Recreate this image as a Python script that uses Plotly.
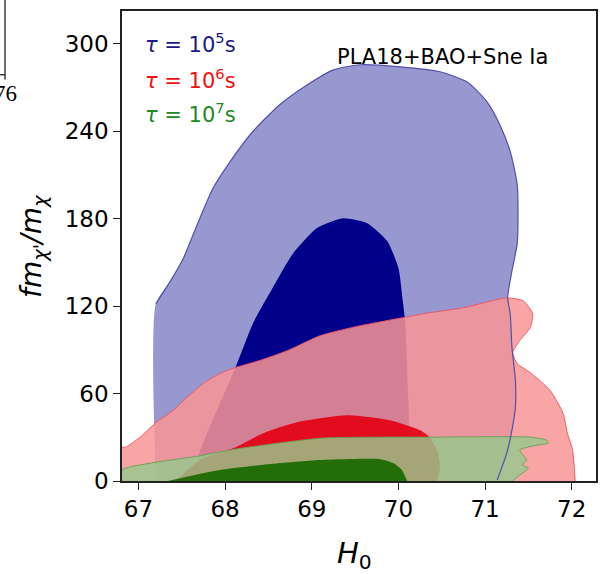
import plotly.graph_objects as go

# ---- data (H0, f m_chi'/m_chi) contour boundaries ----
blue68_h0 = [67.20, 67.20, 67.37, 67.52, 67.68, 67.86, 68.06, 68.32, 68.63, 68.95, 69.25, 69.56, 70.02, 70.48,
             70.79, 71.02, 71.17, 71.29, 71.37, 71.38, 71.37, 71.31, 71.26, 71.29, 71.31, 71.35, 71.35, 71.31,
             71.25, 71.14, 71.13]
blue68_f = [0, 121.6, 137.4, 153.1, 176.3, 200.9, 219.4, 239.9, 258.3, 272.0, 282.2, 285.7, 284.3, 280.9,
            274.0, 260.4, 244.6, 226.2, 203.7, 180.4, 162.6, 144.2, 125.7, 114.8, 91.6, 69.0, 50.6, 34.9,
            19.1, 0.7, 0]
blue95_h0 = [67.67, 67.69, 68.12, 68.32, 68.55, 68.78, 69.06, 69.36, 69.64, 69.87, 70.00, 70.05, 70.08, 70.11,
             70.13, 70.13]
blue95_f = [0, 16.4, 77.9, 108.0, 132.6, 155.8, 173.6, 180.4, 177.0, 164.7, 146.2, 123.7, 108.0, 62.2, 28.0, 0]

red68_h0 = [66.81, 66.81, 66.85, 67.02, 67.19, 67.40, 67.56, 67.75, 67.94, 68.12, 68.40, 68.72, 69.10, 69.56,
            70.05, 70.36, 70.75, 71.25, 71.44, 71.55, 71.52, 71.40, 71.32, 71.37, 71.52, 71.75, 71.90, 71.95,
            72.01, 72.04]
red68_f = [0, 23.2, 23.2, 30.1, 39.6, 48.5, 57.4, 67.0, 73.8, 77.9, 82.7, 89.5, 99.8, 106.6,
           112.1, 115.5, 118.9, 125.7, 123.7, 114.8, 105.2, 96.4, 88.2, 80.6, 74.5, 62.2, 46.5, 32.8,
           21.2, 0]
red95_h0 = [67.43, 67.71, 68.10, 68.44, 68.83, 69.41, 69.90, 70.25, 70.36, 70.46, 70.48, 70.45]
red95_f = [0, 14.4, 22.6, 32.8, 40.3, 45.1, 41.7, 34.9, 30.1, 19.1, 9.6, 0]

green68_h0 = [66.81, 66.81, 67.69, 68.12, 69.10, 69.79, 70.36, 71.52, 71.71, 71.73, 71.60, 71.40, 71.48,
              71.43, 71.50, 71.37, 71.32]
green68_f = [0, 7.5, 17.1, 21.9, 29.4, 30.1, 30.1, 30.1, 28.0, 26.0, 24.6, 21.2, 14.4, 10.9, 8.9, 2.7, 0]
green95_h0 = [67.34, 67.94, 68.52, 69.10, 69.79, 69.94, 70.04, 70.08, 70.10]
green95_f = [0, 7.5, 11.6, 14.4, 15.0, 12.3, 7.5, 2.7, 0]

x_ticks = [67, 68, 69, 70, 71, 72]
y_ticks = [0, 60, 120, 180, 240, 300]

FONT = "DejaVu Sans"
fig = go.Figure()


def poly(x, y, fill, line_color=None, width=0):
    fig.add_trace(go.Scatter(
        x=x, y=y, mode="lines", fill="toself", fillcolor=fill,
        line=dict(color=line_color or "rgba(0,0,0,0)", width=width, shape="spline", smoothing=0.6),
        hoverinfo="skip", showlegend=False))


poly(blue68_h0, blue68_f, "rgb(152,152,208)")
poly(blue95_h0, blue95_f, "rgb(0,0,139)")
poly(red68_h0, red68_f, "rgba(249,149,149,0.85)", "rgba(240,80,95,0.9)", 1)
poly(red95_h0, red95_f, "rgba(228,0,18,0.9)")
poly(green68_h0, green68_f, "rgba(150,200,140,0.82)", "rgba(100,160,80,0.9)", 1)
poly(green95_h0, green95_f, "rgba(25,105,0,0.93)")
# outer blue contour line (curved part), drawn on top
fig.add_trace(go.Scatter(x=blue68_h0[1:-1], y=blue68_f[1:-1], mode="lines",
                         line=dict(color="rgb(80,80,170)", width=1.2, shape="spline", smoothing=0.6),
                         hoverinfo="skip", showlegend=False))

axis_common = dict(showline=True, linecolor="#222", linewidth=1.5, mirror=True,
                   ticks="outside", ticklen=7, tickwidth=1.3, tickcolor="#222",
                   showgrid=False, zeroline=False,
                   tickfont=dict(family=FONT, size=23, color="black"))
fig.update_xaxes(range=[66.81, 72.28], tickvals=x_ticks, **axis_common)
fig.update_yaxes(range=[0, 322.6], tickvals=y_ticks, **axis_common)

ann = [
    dict(text="<i>H</i><sub>0</sub>", x=0.49, y=-0.157, font=dict(size=29)),
    dict(text="<i>fm</i><sub><i>χ'</i></sub><i>/m</i><sub><i>χ</i></sub>", x=-0.188, y=0.5,
         textangle=-90, font=dict(size=28)),
    dict(text="PLA18+BAO+Sne Ia", x=0.449, y=0.9025, xanchor="left", font=dict(size=21)),
    dict(text="<i>τ</i> = 10<sup>5</sup>s", x=0.044, y=0.932, xanchor="left",
         font=dict(size=21, color="rgb(25,25,140)")),
    dict(text="<i>τ</i> = 10<sup>6</sup>s", x=0.044, y=0.856, xanchor="left",
         font=dict(size=21, color="rgb(240,15,15)")),
    dict(text="<i>τ</i> = 10<sup>7</sup>s", x=0.044, y=0.784, xanchor="left",
         font=dict(size=21, color="rgb(35,135,35)")),
    dict(text="76", x=-0.2468, y=0.825, font=dict(size=23, family="Liberation Serif")),
]
for a in ann:
    a.setdefault("xanchor", "center")
    a.update(xref="paper", yref="paper", showarrow=False, yanchor="middle")
    a["font"].setdefault("family", FONT)
    a["font"].setdefault("color", "black")
fig.update_layout(annotations=ann)

fig.update_layout(
    width=607, height=574,
    margin=dict(l=122, r=11, t=9, b=93),
    plot_bgcolor="white", paper_bgcolor="white",
    shapes=[
        dict(type="line", xref="paper", yref="paper", x0=-0.2468, x1=-0.2468, y0=1.03, y1=0.854,
             line=dict(color="#222", width=1.3)),
        dict(type="line", xref="paper", yref="paper", x0=-0.27, x1=-0.2468, y0=0.8644, y1=0.8644,
             line=dict(color="#222", width=1.3)),
    ],
)

fig.write_html("out.html", config={"displayModeBar": False},
               post_script="document.body.style.margin='0';document.body.style.overflow='hidden';")
